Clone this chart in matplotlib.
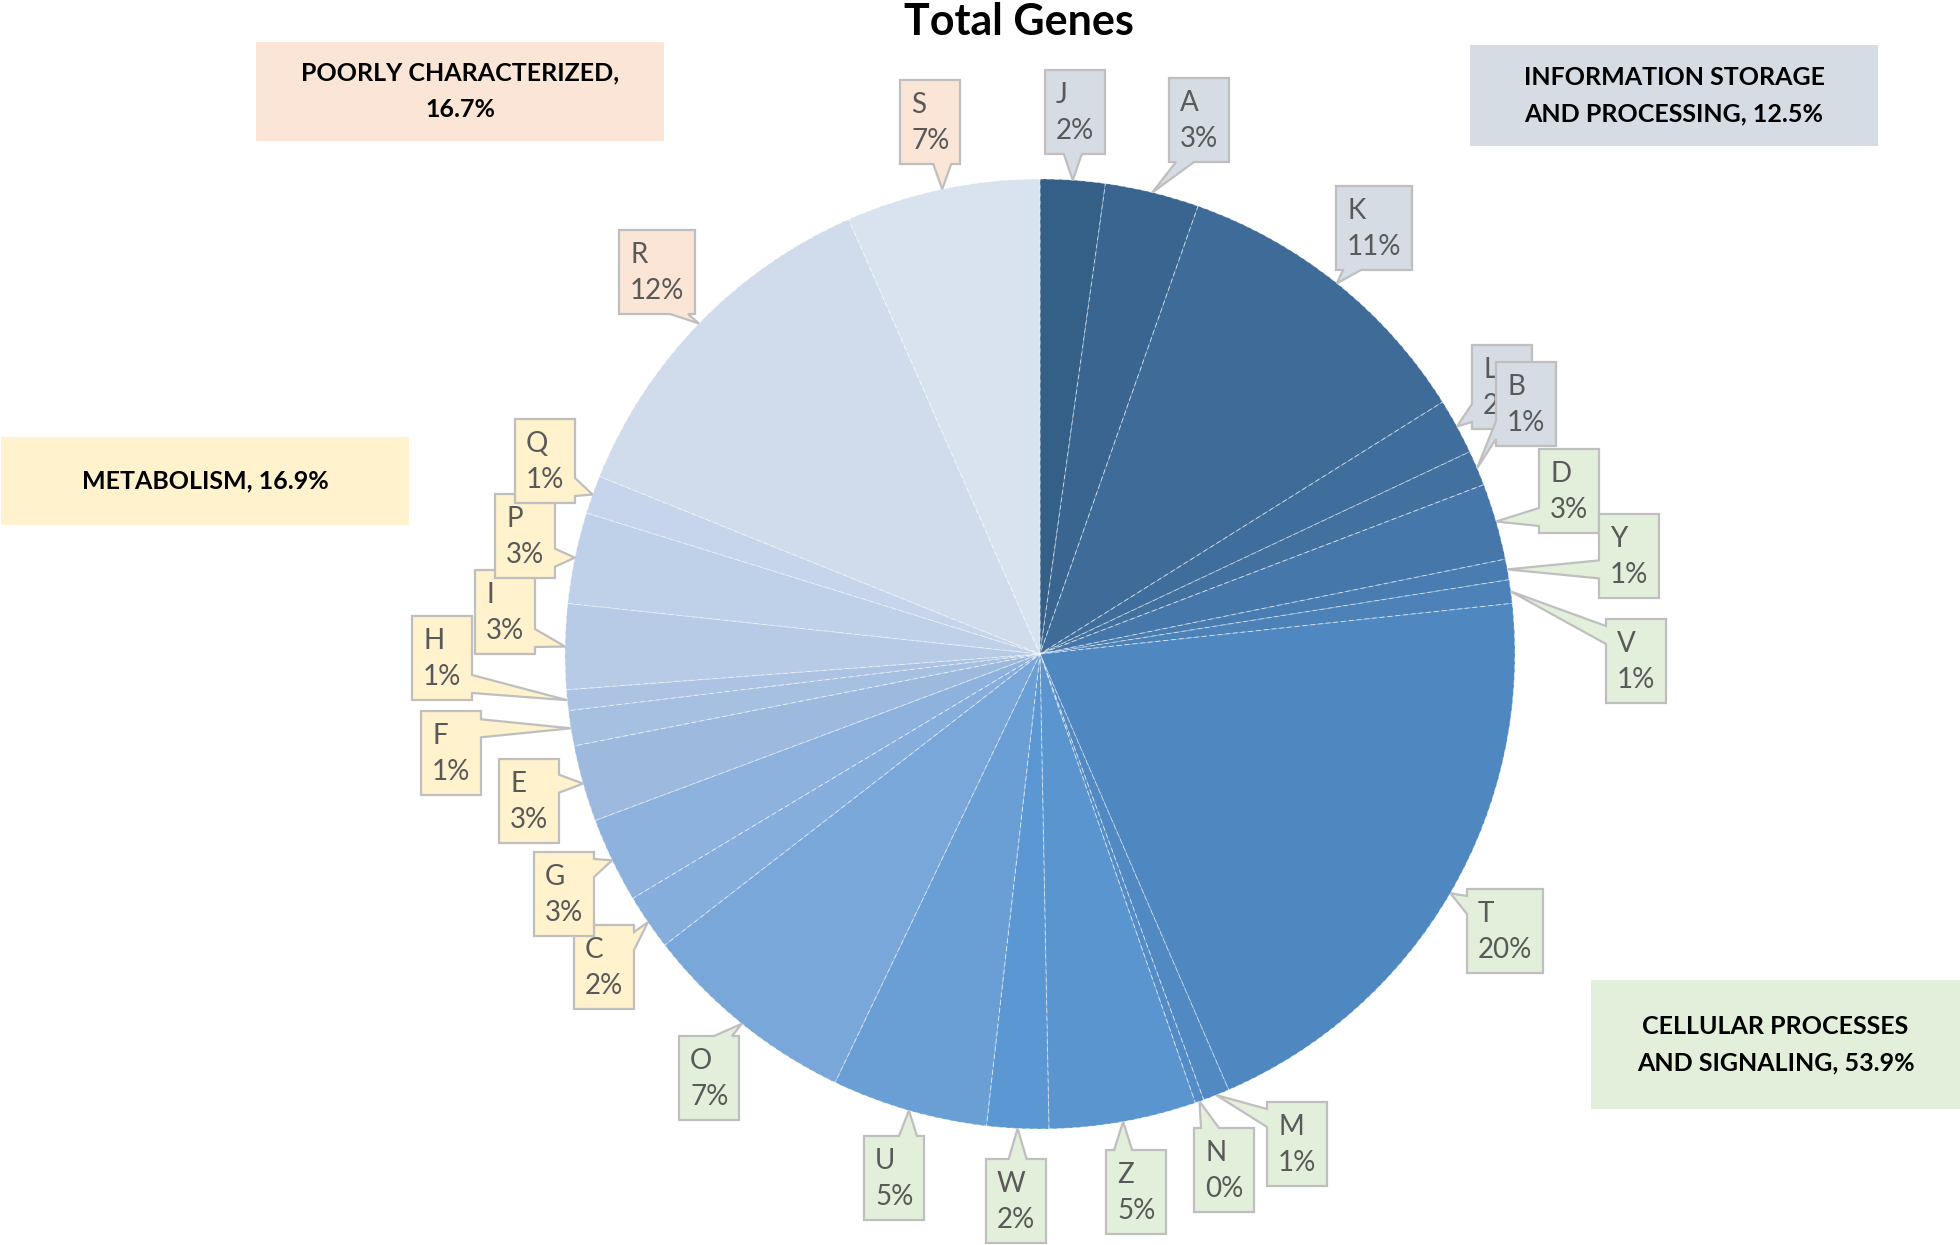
import numpy as np
import matplotlib.pyplot as plt
from matplotlib.patches import Polygon, Rectangle

plt.rcParams['font.family'] = ['Lato', 'DejaVu Sans']

# COG categories, clockwise from 12 o'clock
categories = ['J', 'A', 'K', 'L', 'B', 'D', 'Y', 'V', 'T', 'M', 'N', 'Z', 'W',
              'U', 'O', 'C', 'G', 'E', 'F', 'H', 'I', 'P', 'Q', 'R', 'S']
shares = [2.2, 3.2, 10.7, 1.9, 1.2, 2.6, 0.7, 0.8, 20.2, 0.9, 0.3, 5.0, 2.1,
          5.3, 7.4, 1.9, 2.9, 2.6, 1.2, 0.7, 2.9, 3.1, 1.3, 12.3, 6.6]
groups = ['info'] * 5 + ['cell'] * 10 + ['meta'] * 8 + ['poor'] * 2

group_names = ['POORLY CHARACTERIZED,\n16.7%',
               'INFORMATION STORAGE\nAND PROCESSING, 12.5%',
               'METABOLISM, 16.9%',
               'CELLULAR PROCESSES\nAND SIGNALING, 53.9%']
group_keys = ['poor', 'info', 'meta', 'cell']

slice_colors = ['#345f87', '#396590', '#3e6b97', '#406e9c', '#4271a0', '#4677ab',
                '#497db2', '#4c82b8', '#4f88c0', '#5189c3', '#538cc6', '#5a95cf',
                '#5b97d3', '#6a9fd6', '#7aa7da', '#86aedc', '#8db2de', '#9dbade',
                '#a6c0e2', '#acc3e3', '#b7cbe6', '#bfd0e9', '#c6d5eb', '#d0dcec',
                '#d9e3f0']
box_fill = {'info': '#d6dce4', 'cell': '#e2efda', 'meta': '#fff2cc', 'poor': '#fbe5d6'}

W, H = 1960, 1245
cx, cy, rad = 1040, 654, 475   # pie centre / radius in image pixels (y down)

# callout boxes: left, top (image pixels)
label_pos = {
    'J': (1045, 70), 'A': (1169, 78), 'K': (1336, 186), 'L': (1472, 345),
    'B': (1496, 362), 'D': (1539, 449), 'Y': (1599, 514), 'V': (1606, 619),
    'T': (1467, 889), 'M': (1267, 1102), 'N': (1194, 1128), 'Z': (1106, 1150),
    'W': (986, 1159), 'U': (864, 1136), 'O': (679, 1036), 'C': (574, 925),
    'G': (534, 852), 'E': (499, 759), 'F': (421, 711), 'H': (412, 616),
    'I': (475, 570), 'P': (495, 494), 'Q': (515, 419), 'R': (619, 230),
    'S': (900, 80)}
group_boxes = {'poor': (256, 42, 664, 141), 'info': (1470, 45, 1878, 146),
               'meta': (1, 437, 409, 525), 'cell': (1591, 980, 1960, 1109)}


def fy(y):
    return H - y


def callout(l, t, w, h, tx, ty, notch=9):
    r, b = l + w, t + h
    mx, my = l + w / 2, t + h / 2
    dx, dy = (tx - mx) / (w / 2), (ty - my) / (h / 2)
    if abs(dx) > abs(dy):
        c = min(max(ty, t + 16), b - 16)
        if dx < 0:
            pts = [(l, t), (r, t), (r, b), (l, b), (l, c + notch), (tx, ty), (l, c - notch)]
        else:
            pts = [(l, t), (r, t), (r, c - notch), (tx, ty), (r, c + notch), (r, b), (l, b)]
    else:
        c = min(max(tx, l + 16), r - 16)
        if dy > 0:
            pts = [(l, t), (r, t), (r, b), (c + notch, b), (tx, ty), (c - notch, b), (l, b)]
        else:
            pts = [(l, t), (c - notch, t), (tx, ty), (c + notch, t), (r, t), (r, b), (l, b)]
    return [(x, fy(y)) for x, y in pts]


fig = plt.figure(figsize=(19.6, 12.45), dpi=100)
ax = fig.add_axes([0, 0, 1, 1])

wedges, _ = ax.pie(shares, colors=slice_colors, startangle=90, counterclock=False,
                   center=(cx, fy(cy)), radius=rad, frame=True,
                   wedgeprops=dict(edgecolor=(1, 1, 1, 0.55), linewidth=0.7,
                                   linestyle=(0, (5, 3))))

for i, (wdg, cat, val, grp) in enumerate(zip(wedges, categories, shares, groups)):
    mid = np.deg2rad((wdg.theta1 + wdg.theta2) / 2)
    tx = cx + rad * np.cos(mid)
    ty = cy - rad * np.sin(mid)
    txt = f'{cat}\n{round(val)}%'
    bw = 76 if round(val) >= 10 else 60
    l, t = label_pos[cat]
    # later callouts sit on top of earlier ones (as with L / B)
    ax.add_patch(Polygon(callout(l, t, bw, 84, tx, ty), closed=True,
                         facecolor=box_fill[grp], edgecolor='#bfbfbf', lw=1.6,
                         zorder=3 + 2 * i))
    ax.text(l + 11, fy(t + 43), txt, ha='left', va='center', fontsize=20,
            color='#595959', linespacing=1.5, zorder=4 + 2 * i)

for key, name in zip(group_keys, group_names):
    l, t, r, b = group_boxes[key]
    ax.add_patch(Rectangle((l, fy(b)), r - l, b - t, facecolor=box_fill[key],
                           edgecolor='none', zorder=2))
    ax.text((l + r) / 2, fy((t + b) / 2), name, ha='center', va='center',
            fontsize=18, fontweight='bold', color='black', linespacing=1.7, zorder=2.5)

ax.text(1019, fy(22), 'Total Genes', ha='center', va='center', fontsize=31,
        fontweight='bold', color='black')

ax.set_xlim(0, W)
ax.set_ylim(0, H)
ax.set_aspect('equal')
ax.axis('off')
fig.savefig('out.png', dpi=100, facecolor='white')
